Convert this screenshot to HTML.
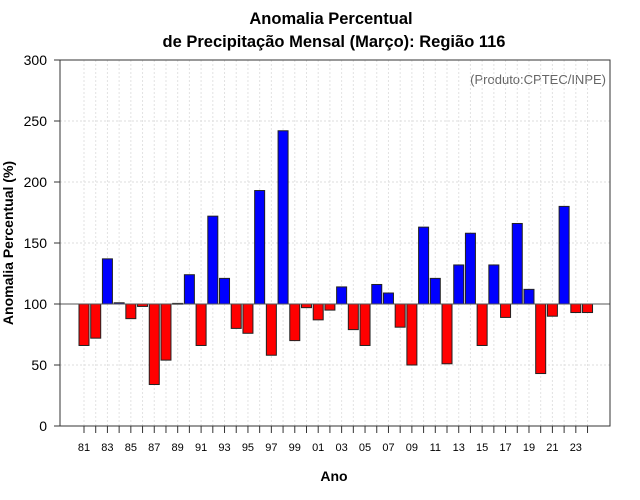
<!DOCTYPE html>
<html><head><meta charset="utf-8"><style>
body{margin:0;background:#fff;}
svg{display:block;font-family:"Liberation Sans",sans-serif;}
</style></head><body>
<svg id="chart" width="640" height="500">
<text x="331" y="24" text-anchor="middle" font-size="16.5" font-weight="bold">Anomalia Percentual</text>
<text x="334" y="47" text-anchor="middle" font-size="16.5" font-weight="bold">de Precipitação Mensal (Março): Região 116</text>
<text x="606" y="84" text-anchor="end" font-size="13" fill="#666">(Produto:CPTEC/INPE)</text>
<text x="334" y="481" text-anchor="middle" font-size="14" font-weight="bold">Ano</text>
<text transform="translate(13,243) rotate(-90)" text-anchor="middle" font-size="14" font-weight="bold">Anomalia Percentual (%)</text>
<g id="grid"></g><g id="bars"></g><g id="axes"></g>
</svg>
<script>
const years=[81,82,83,84,85,86,87,88,89,90,91,92,93,94,95,96,97,98,99,0,1,2,3,4,5,6,7,8,9,10,11,12,13,14,15,16,17,18,19,20,21,22,23,24];
const values=[66,72,137,101,88,98,34,54,100.5,124,66,172,121,80,76,193,58,242,70,97,87,95,114,79,66,116,109,81,50,163,121,51,132,158,66,132,89,166,112,43,90,180,93,93];
const yTicks=[0,50,100,150,200,250,300];
const NS="http://www.w3.org/2000/svg";
const L=60,R=610,T=60,B=426;
function y(v){return B-(v/300)*(B-T);}
function x(i){return 84+i*11.71;}
function mk(tag,attrs,parent){const e=document.createElementNS(NS,tag);for(const k in attrs)e.setAttribute(k,attrs[k]);parent.appendChild(e);return e;}
const grid=document.getElementById('grid'),bars=document.getElementById('bars'),axes=document.getElementById('axes');
yTicks.forEach(t=>{
 const g=mk('line',{x1:L,x2:R,y1:y(t),y2:y(t),stroke:'#ddd','stroke-dasharray':'2,2'},grid);
 
 
 const tk=mk('line',{x1:L-6,x2:L,y1:y(t),y2:y(t),stroke:'#333'},axes);
 
 
 const lb=mk('text',{x:L-13,y:y(t)+5,'text-anchor':'end','font-size':14},axes);
 lb.textContent=t;
 
 
});
years.forEach((yr,i)=>{
 const g=mk('line',{x1:x(i),x2:x(i),y1:T,y2:B,stroke:'#e2e2e2','stroke-dasharray':'2,2'},grid);
 
 
 const v=values[i];
 const top=Math.min(y(v),y(100)),h=Math.abs(y(v)-y(100));
 const b=mk('rect',{x:x(i)-5,y:top,width:10,height:Math.max(h,0.8),fill:v>=100?'#0000ff':'#ff0000',stroke:'#222','stroke-width':1},bars);
 
 
 const tk=mk('line',{x1:x(i),x2:x(i),y1:B,y2:B+7,stroke:'#333'},axes);
 
 
 if(i%2===0){
  const lb=mk('text',{x:x(i),y:B+25,'text-anchor':'middle','font-size':11},axes);
  lb.textContent=String(yr).padStart(2,'0');
  
  
 }
});
const ref=mk('line',{x1:L,x2:R,y1:y(100),y2:y(100),stroke:'#555','stroke-width':1},axes);


const fr=mk('rect',{x:L,y:T,width:R-L,height:B-T,fill:'none',stroke:'#333'},axes);


</script>
</body></html>
